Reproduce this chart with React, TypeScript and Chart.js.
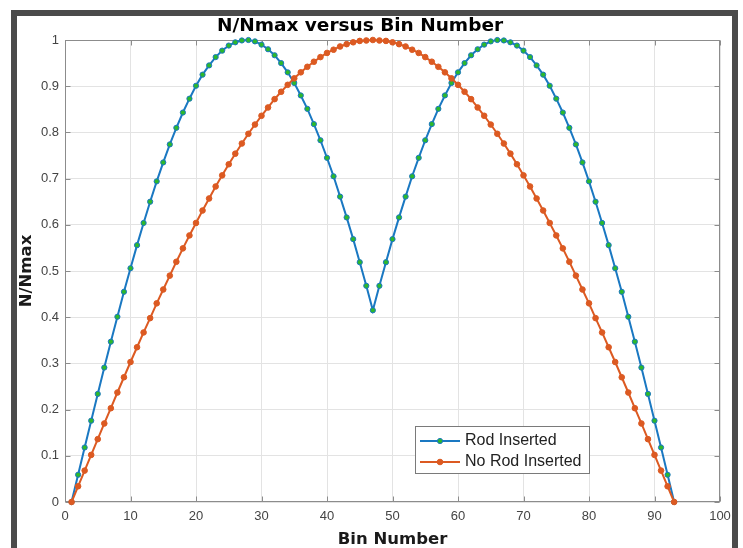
import React, { useEffect, useRef } from "react";
import { Chart, registerables } from "chart.js";

Chart.register(...registerables);

// ---- Data ----
const bins = [
  1, 2, 3, 4, 5, 6, 7, 8, 9, 10,
  11, 12, 13, 14, 15, 16, 17, 18, 19, 20,
  21, 22, 23, 24, 25, 26, 27, 28, 29, 30,
  31, 32, 33, 34, 35, 36, 37, 38, 39, 40,
  41, 42, 43, 44, 45, 46, 47, 48, 49, 50,
  51, 52, 53, 54, 55, 56, 57, 58, 59, 60,
  61, 62, 63, 64, 65, 66, 67, 68, 69, 70,
  71, 72, 73, 74, 75, 76, 77, 78, 79, 80,
  81, 82, 83, 84, 85, 86, 87, 88, 89, 90,
  91, 92, 93,
];

const rodInserted = [
  0, 0.059, 0.118, 0.176, 0.234, 0.291, 0.347, 0.401, 0.455, 0.506,
  0.556, 0.604, 0.65, 0.694, 0.735, 0.774, 0.81, 0.843, 0.873, 0.901,
  0.925, 0.945, 0.963, 0.977, 0.988, 0.995, 0.999, 1.0, 0.997, 0.99,
  0.98, 0.967, 0.95, 0.93, 0.907, 0.88, 0.851, 0.818, 0.783, 0.745,
  0.705, 0.661, 0.616, 0.569, 0.519, 0.468, 0.415, 0.468, 0.519, 0.569,
  0.616, 0.661, 0.705, 0.745, 0.783, 0.818, 0.851, 0.88, 0.907, 0.93,
  0.95, 0.967, 0.98, 0.99, 0.997, 1.0, 0.999, 0.995, 0.988, 0.977,
  0.963, 0.945, 0.925, 0.901, 0.873, 0.843, 0.81, 0.774, 0.735, 0.694,
  0.65, 0.604, 0.556, 0.506, 0.455, 0.401, 0.347, 0.291, 0.234, 0.176,
  0.118, 0.059, 0,
];

const noRodInserted = [
  0, 0.034, 0.068, 0.102, 0.136, 0.17, 0.203, 0.237, 0.27, 0.303,
  0.335, 0.367, 0.398, 0.43, 0.46, 0.49, 0.52, 0.549, 0.577, 0.604,
  0.631, 0.657, 0.683, 0.707, 0.731, 0.754, 0.776, 0.797, 0.817, 0.836,
  0.854, 0.872, 0.888, 0.903, 0.917, 0.93, 0.942, 0.953, 0.963, 0.972,
  0.979, 0.986, 0.991, 0.995, 0.998, 0.999, 1.0, 0.999, 0.998, 0.995,
  0.991, 0.986, 0.979, 0.972, 0.963, 0.953, 0.942, 0.93, 0.917, 0.903,
  0.888, 0.872, 0.854, 0.836, 0.817, 0.797, 0.776, 0.754, 0.731, 0.707,
  0.683, 0.657, 0.631, 0.604, 0.577, 0.549, 0.52, 0.49, 0.46, 0.43,
  0.398, 0.367, 0.335, 0.303, 0.27, 0.237, 0.203, 0.17, 0.136, 0.102,
  0.068, 0.034, 0,
];

const seriesLabels = ["Rod Inserted", "No Rod Inserted"];
const chartTitle = "N/Nmax versus Bin Number";
const xAxisTitle = "Bin Number";
const yAxisTitle = "N/Nmax";

const SANS = '"Liberation Sans", Arial, Helvetica, sans-serif';
const BOLD = '"DejaVu Sans", "Liberation Sans", Arial, sans-serif';

// ---- Plugins ----
const framePlugin = {
  id: "frame",
  beforeDraw(chart: any) {
    const ctx = chart.ctx;
    ctx.save();
    ctx.fillStyle = "#ffffff";
    ctx.fillRect(0, 0, chart.width, chart.height);
    ctx.fillStyle = "#4b4b4b";
    ctx.fillRect(11, 10, 727, 6);
    ctx.fillRect(11, 10, 6, chart.height - 10);
    ctx.fillRect(732, 10, 6, chart.height - 10);
    ctx.restore();
  },
};

const axesBoxPlugin = {
  id: "axesBox",
  beforeDatasetsDraw(chart: any) {
    const { ctx, chartArea: a, scales } = chart;
    ctx.save();
    ctx.strokeStyle = "#8c8c8c";
    ctx.lineWidth = 1;
    const L = Math.round(a.left) + 0.5;
    const R = Math.round(a.right) - 0.5;
    const T = Math.round(a.top) + 0.5;
    const B = Math.round(a.bottom) - 0.5;
    ctx.strokeRect(L, T, R - L, B - T);
    const len = 5;
    ctx.beginPath();
    scales.x.ticks.forEach((t: any) => {
      const p = Math.round(scales.x.getPixelForValue(t.value)) + 0.5;
      ctx.moveTo(p, B);
      ctx.lineTo(p, B - len);
      ctx.moveTo(p, T);
      ctx.lineTo(p, T + len);
    });
    scales.y.ticks.forEach((t: any) => {
      const p = Math.round(scales.y.getPixelForValue(t.value)) + 0.5;
      ctx.moveTo(L, p);
      ctx.lineTo(L + len, p);
      ctx.moveTo(R, p);
      ctx.lineTo(R - len, p);
    });
    ctx.stroke();
    ctx.restore();
  },
};

const boxLegendPlugin = {
  id: "boxLegend",
  afterDraw(chart: any) {
    const { ctx, chartArea: a } = chart;
    const x0 = Math.round(a.right) - 305;
    const y0 = Math.round(a.bottom) - 76;
    const w = 174;
    const h = 47;
    ctx.save();
    ctx.fillStyle = "#ffffff";
    ctx.fillRect(x0, y0, w, h);
    ctx.strokeStyle = "#7a7a7a";
    ctx.lineWidth = 1;
    ctx.strokeRect(x0 + 0.5, y0 + 0.5, w, h);
    chart.data.datasets.forEach((ds: any, i: number) => {
      const cy = y0 + 15 + i * 21;
      ctx.strokeStyle = ds.borderColor;
      ctx.lineWidth = 2;
      ctx.beginPath();
      ctx.moveTo(x0 + 5, cy);
      ctx.lineTo(x0 + 45, cy);
      ctx.stroke();
      ctx.beginPath();
      ctx.arc(x0 + 25, cy, ds.pointRadius, 0, Math.PI * 2);
      ctx.fillStyle = ds.pointBackgroundColor;
      ctx.fill();
      ctx.lineWidth = ds.pointBorderWidth;
      ctx.strokeStyle = ds.pointBorderColor;
      ctx.stroke();
      ctx.fillStyle = "#222222";
      ctx.font = `16px ${SANS}`;
      ctx.textAlign = "left";
      ctx.textBaseline = "middle";
      ctx.fillText(ds.label, x0 + 50, cy);
    });
    ctx.restore();
  },
};

export default function App() {
  const ref = useRef<HTMLCanvasElement>(null);

  useEffect(() => {
    document.body.style.margin = "0";
    const canvas = ref.current;
    if (!canvas) return;

    const rodPoints = bins.map((b, i) => ({ x: b, y: rodInserted[i] }));
    const noRodPoints = bins.map((b, i) => ({ x: b, y: noRodInserted[i] }));

    const chart = new Chart(canvas, {
      type: "line",
      data: {
        datasets: [
          {
            label: seriesLabels[0],
            data: rodPoints,
            borderColor: "#1a78c2",
            borderWidth: 2,
            pointRadius: 2.6,
            pointBackgroundColor: "#2cb82c",
            pointBorderColor: "#1a78c2",
            pointBorderWidth: 1,
            tension: 0,
            clip: false as any,
            order: 1,
          },
          {
            label: seriesLabels[1],
            data: noRodPoints,
            borderColor: "#dc5a22",
            borderWidth: 2,
            pointRadius: 2.8,
            pointBackgroundColor: "#dc5a22",
            pointBorderColor: "#dc5a22",
            pointBorderWidth: 1,
            tension: 0,
            clip: false as any,
            order: 0,
          },
        ],
      },
      options: {
        responsive: false,
        animation: false,
        devicePixelRatio: 1,
        layout: { padding: { left: 0, right: 23, top: 0, bottom: 0 } },
        plugins: {
          legend: { display: false },
          tooltip: { enabled: false },
          title: {
            display: true,
            text: chartTitle,
            color: "#000000",
            font: { family: BOLD, size: 18.5, weight: "bold", lineHeight: "22px" as any },
            padding: { top: 15, bottom: 3 },
          },
        },
        scales: {
          x: {
            type: "linear",
            min: 0,
            max: 100,
            ticks: {
              stepSize: 10,
              padding: 7,
              color: "#444444",
              font: { family: SANS, size: 13 },
              maxRotation: 0,
            },
            grid: { color: "#e3e3e3", drawTicks: false },
            border: { display: false },
            title: {
              display: true,
              text: xAxisTitle,
              color: "#1a1a1a",
              font: { family: BOLD, size: 16.5, weight: "bold", lineHeight: 1 },
              padding: { top: 0, bottom: 0 },
            },
            afterFit: (scale: any) => {
              scale.height = 46;
            },
          },
          y: {
            type: "linear",
            min: 0,
            max: 1,
            ticks: {
              stepSize: 0.1,
              padding: 6,
              color: "#444444",
              font: { family: SANS, size: 13 },
              callback: (v: any) => String(Number(Number(v).toFixed(1))),
            },
            grid: { color: "#e3e3e3", drawTicks: false },
            border: { display: false },
            title: {
              display: true,
              text: yAxisTitle,
              color: "#1a1a1a",
              font: { family: BOLD, size: 16.5, weight: "bold", lineHeight: 1 },
              padding: { top: 18, bottom: 0 },
            },
            afterFit: (scale: any) => {
              scale.width = 65;
            },
          },
        },
      },
      plugins: [framePlugin, axesBoxPlugin, boxLegendPlugin],
    });

    return () => chart.destroy();
  }, []);

  return (
    <div style={{ width: 743, height: 548 }}>
      <canvas ref={ref} width={743} height={548} style={{ display: "block" }} />
    </div>
  );
}
